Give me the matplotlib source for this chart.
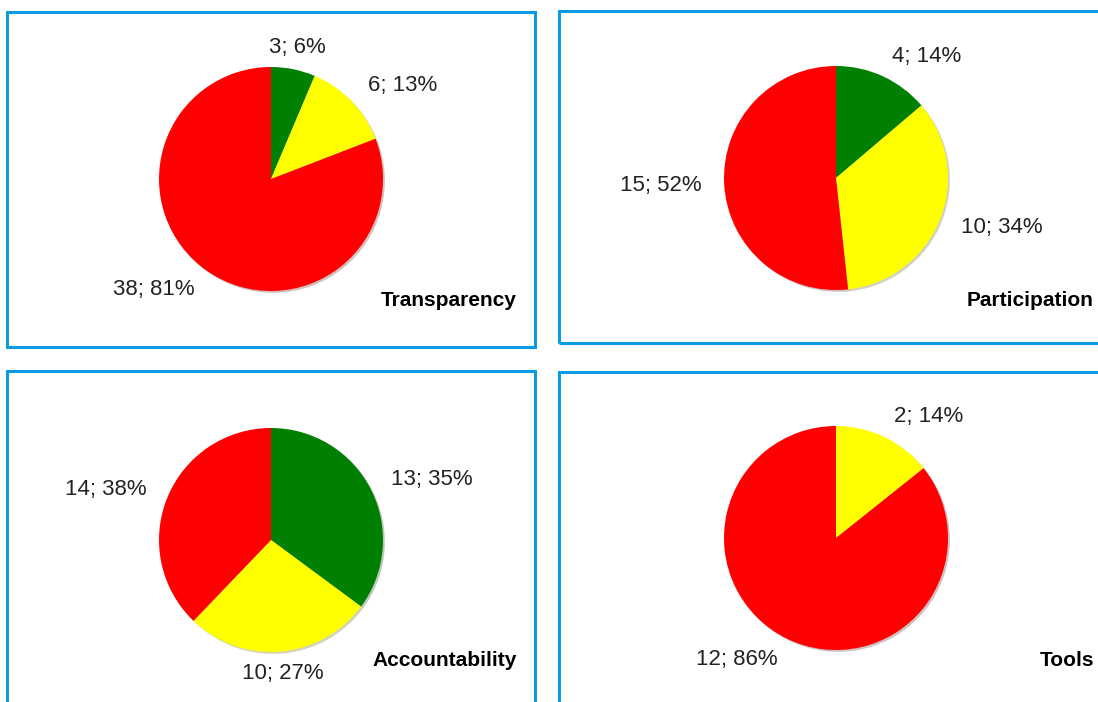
import numpy as np
import matplotlib
matplotlib.use("Agg")
import matplotlib.pyplot as plt
from matplotlib.patches import Rectangle

W, H = 1098, 702

# data for each panel: green / yellow / red
titles = ["Transparency", "Participation", "Accountability", "Tools"]
green = [3, 4, 13, 0]
yellow = [6, 10, 10, 2]
red = [38, 15, 14, 12]
colors = ["#008000", "#FFFF00", "#FF0000"]

plt.rcParams['font.family'] = ['Liberation Sans', 'DejaVu Sans']

fig = plt.figure(figsize=(W / 100, H / 100), dpi=100)

# panel frames (pixels: left, top, right, bottom)
frames = [(7, 12, 535, 347), (559, 11, 1110, 343),
          (7, 371, 535, 712), (559, 372, 1110, 712)]
# pie centres and radius in pixels
centres = [(271, 179), (836, 178), (271, 540), (836, 538)]
radius = 112
# title anchor (right edge, vertical centre)
title_pos = [(517, 300), (1094, 300), (517, 661), (1094, 661)]

for (l, t, r, b) in frames:
    fig.patches.append(Rectangle((l / W, 1 - b / H), (r - l) / W, (b - t) / H,
                                 transform=fig.transFigure, fill=False,
                                 edgecolor="#0A9BE3", linewidth=2.2))

for i in range(4):
    vals = [green[i], yellow[i], red[i]]
    total = sum(vals)
    keep = [k for k in range(3) if vals[k] > 0]
    v = [vals[k] for k in keep]
    c = [colors[k] for k in keep]
    labs = [f"{vals[k]}; {round(100 * vals[k] / total)}%" for k in keep]

    cx, cy = centres[i]
    ax = fig.add_axes([(cx - radius) / W, 1 - (cy + radius) / H,
                       2 * radius / W, 2 * radius / H])
    wedges, texts = ax.pie(v, colors=c, labels=labs, startangle=90,
                           counterclock=False, labeldistance=1.2,
                           shadow=dict(ox=0.012, oy=-0.012, alpha=0.25),
                           wedgeprops=dict(linewidth=0),
                           textprops=dict(fontsize=16, color="#222222"))
    # labels close to the vertical axis are centred over their wedge
    for w, t in zip(wedges, texts):
        ang = np.deg2rad((w.theta1 + w.theta2) / 2)
        if abs(np.cos(ang)) < 0.25:
            t.set_horizontalalignment("center")
    ax.set_xlim(-1, 1)
    ax.set_ylim(-1, 1)
    ax.set_aspect('equal')

    tx, ty = title_pos[i]
    fig.text(tx / W, 1 - ty / H, titles[i], ha="right", va="center",
             fontsize=15, fontweight="bold", color="black")

fig.savefig("out.png", dpi=100)
